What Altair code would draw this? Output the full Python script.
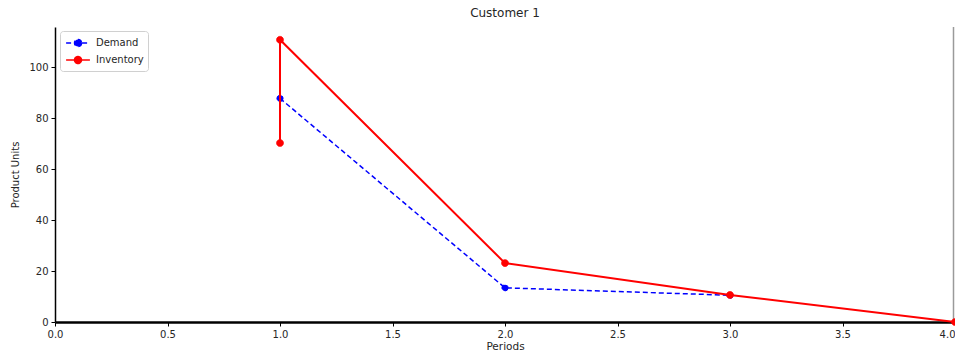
import altair as alt
import pandas as pd

# Data
inv_periods = [1, 1, 2, 3, 4]
inventory = [70.2, 110.7, 23.1, 10.6, 0.0]
dem_periods = [1, 2, 3]
demand = [87.7, 13.4, 10.5]

series_names = ["Demand", "Inventory"]
series_colors = ["#0000ff", "#ff0000"]
series_dashes = [[5, 3], [1, 0]]

x_ticks = [0.0, 0.5, 1.0, 1.5, 2.0, 2.5, 3.0, 3.5, 4.0]
y_ticks = [0, 20, 40, 60, 80, 100]

rows = []
for i, (p, v) in enumerate(zip(dem_periods, demand)):
    rows.append({"Periods": p, "Units": v, "Series": "Demand", "idx": i})
for i, (p, v) in enumerate(zip(inv_periods, inventory)):
    rows.append({"Periods": p, "Units": v, "Series": "Inventory", "idx": i})
df = pd.DataFrame(rows)

W, H = 900, 295
font = "DejaVu Sans"
txt = "#262626"

x_enc = alt.X("Periods:Q", scale=alt.Scale(domain=[0, 4], nice=False, zero=False),
              axis=alt.Axis(values=x_ticks, format=".1f", title="Periods", grid=False,
                            domainColor="black", domainWidth=2.5, tickColor="black",
                            labelFontSize=10, titleFontSize=10.5, titleFontWeight="normal",
                            labelColor=txt, titleColor=txt, titlePadding=2,
                            labelPadding=3, labelFlush=False, tickSize=4,
                            labelAlign={"condition": {"test": "datum.value >= 4", "value": "right"},
                                        "value": "center"}))
y_enc = alt.Y("Units:Q", scale=alt.Scale(domain=[0, 115.7], nice=False),
              axis=alt.Axis(values=y_ticks, title="Product Units", grid=False,
                            domainColor="black", domainWidth=1.5, tickColor="black",
                            labelFontSize=10, titleFontSize=10, titleFontWeight="normal",
                            labelColor=txt, titleColor=txt, titlePadding=8,
                            labelPadding=3, tickSize=4))

base = alt.Chart(df)
dem = base.transform_filter(alt.datum.Series == "Demand")
inv = base.transform_filter(alt.datum.Series == "Inventory")

legend = alt.Legend(title=None, orient="none", legendX=5, legendY=4,
                    symbolType="M-1.7,0H1.7M0.5,0A0.5,0.5 0 1 1 -0.5,0A0.5,0.5 0 1 1 0.5,0Z",
                    symbolSize=196, symbolStrokeWidth=1.5, symbolOffset=6,
                    labelFontSize=10, labelFont=font, labelColor=txt, labelOffset=10,
                    strokeColor="#d0d0d0", fillColor="white", padding=4,
                    cornerRadius=3, rowPadding=2)

fill_enc = alt.Fill("Series:N", scale=alt.Scale(domain=series_names, range=series_colors),
                    legend=legend)
stroke_enc = alt.Stroke("Series:N", scale=alt.Scale(domain=series_names, range=series_colors),
                        legend=legend)
dash_enc = alt.StrokeDash("Series:N", scale=alt.Scale(domain=series_names, range=series_dashes),
                          legend=legend)

dem_line = dem.mark_line(strokeDash=[5, 3], strokeWidth=1.5, color=series_colors[0]).encode(
    x=x_enc, y=y_enc, order="idx:Q")
dem_pts = dem.mark_point(shape="circle", filled=True, size=38, opacity=1, strokeWidth=1).encode(
    x="Periods:Q", y="Units:Q", fill=fill_enc, stroke=stroke_enc, strokeDash=dash_enc)
inv_line = inv.mark_line(strokeWidth=2, color=series_colors[1]).encode(
    x="Periods:Q", y="Units:Q", order="idx:Q")
inv_pts = inv.mark_point(shape="circle", filled=True, size=45, opacity=1, strokeWidth=1).encode(
    x="Periods:Q", y="Units:Q", fill=fill_enc, stroke=stroke_enc, strokeDash=dash_enc)

right_rule = alt.Chart(pd.DataFrame({"a": [0]})).mark_rule(color="#9a9a9a", strokeWidth=1.5).encode(
    x=alt.value(W - 1.5), y=alt.value(0), y2=alt.value(H))

chart = alt.layer(right_rule, dem_line, dem_pts, inv_line, inv_pts).properties(
    width=W, height=H,
    title=alt.TitleParams("Customer 1", fontSize=12, fontWeight="normal", font=font,
                          color=txt, offset=6),
    padding={"left": 47, "top": 19, "right": 0, "bottom": 28},
    autosize=alt.AutoSizeParams(type="none"),
).configure_view(stroke=None).configure_axis(labelFont=font, titleFont=font)

chart.save("out.html", embed_options={"renderer": "svg", "actions": False})
